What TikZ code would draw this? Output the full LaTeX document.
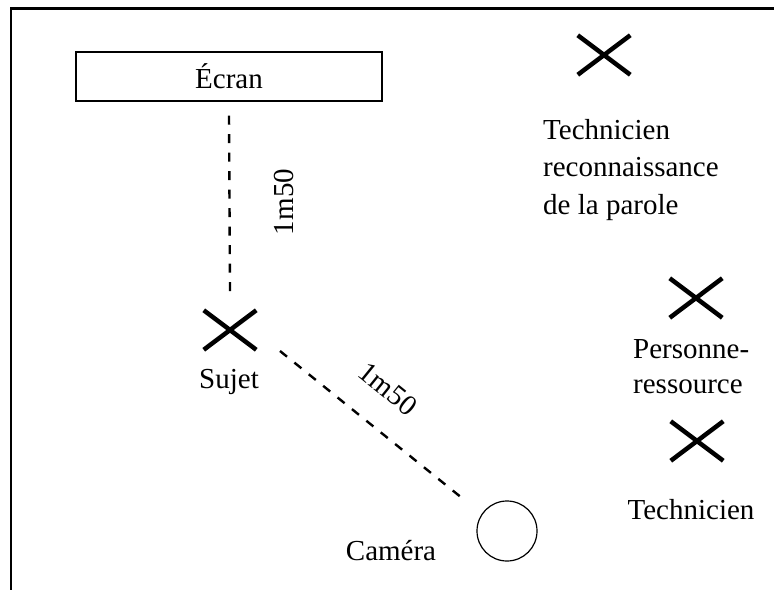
\documentclass[tikz,border=0pt]{standalone}
\usepackage{fontspec}
\setmainfont{Liberation Serif}
\usetikzlibrary{shapes.misc}
\begin{document}
\begin{tikzpicture}[x=1pt,y=-1pt,
  croix/.style={cross out,draw,line width=4.5pt,minimum width=48pt,minimum height=35pt,inner sep=0pt},
  txt/.style={font=\fontsize{29}{37.5}\selectfont,inner sep=0pt},
  cote/.style={line width=2.4pt,dash pattern=on 9pt off 9.5pt}]
\useasboundingbox (0,0) rectangle (774,590);
% cadre
\draw[line width=2.5pt] (774,8.7) -- (11.2,8.7) -- (11.2,590);
% ecran et camera
\node[txt,draw,line width=1.2pt,minimum width=306pt,minimum height=49pt] (ecran) at (229,76.5) {Écran};
\node[draw,circle,line width=1.2pt,minimum size=60pt,inner sep=0pt] (camera) at (507,531) {};
% personnes
\node[croix] (sujet) at (230,330) {};
\node[croix] (techrp) at (604,55) {};
\node[croix] (pers) at (696,298) {};
\node[croix] (tech) at (697,441) {};
\node[txt,anchor=base] (sujettxt) at (229,388) {Sujet};
\node[txt,anchor=base] (cameratxt) at (391,560) {Caméra};
\node[txt,anchor=base] (techtxt) at (691,519) {Technicien};
\node[txt,align=left,anchor=north west] (techrptxt) at (543,119) {Technicien\\reconnaissance\\de la parole};
\node[txt,font=\fontsize{29}{35}\selectfont,align=left,anchor=north west] (perstxt) at (633,339) {Personne-\\ressource};
% distances
\coordinate (v1) at ([yshift=-14pt]ecran.south);
\coordinate (v2) at ([yshift=19pt]sujet.north);
\draw[cote] (v1) -- (v2);
\coordinate (d1) at ([shift={(50,21)}]sujet.center);
\coordinate (d2) at ([shift={(-45,-33)}]camera.center);
\draw[cote] (d1) -- (d2);
\node[txt,rotate=90,anchor=base] (cote1) at (293,202) {1m50};
\node[txt,rotate=-39] (cote2) at (388,389) {1m50};
\end{tikzpicture}
\end{document}
